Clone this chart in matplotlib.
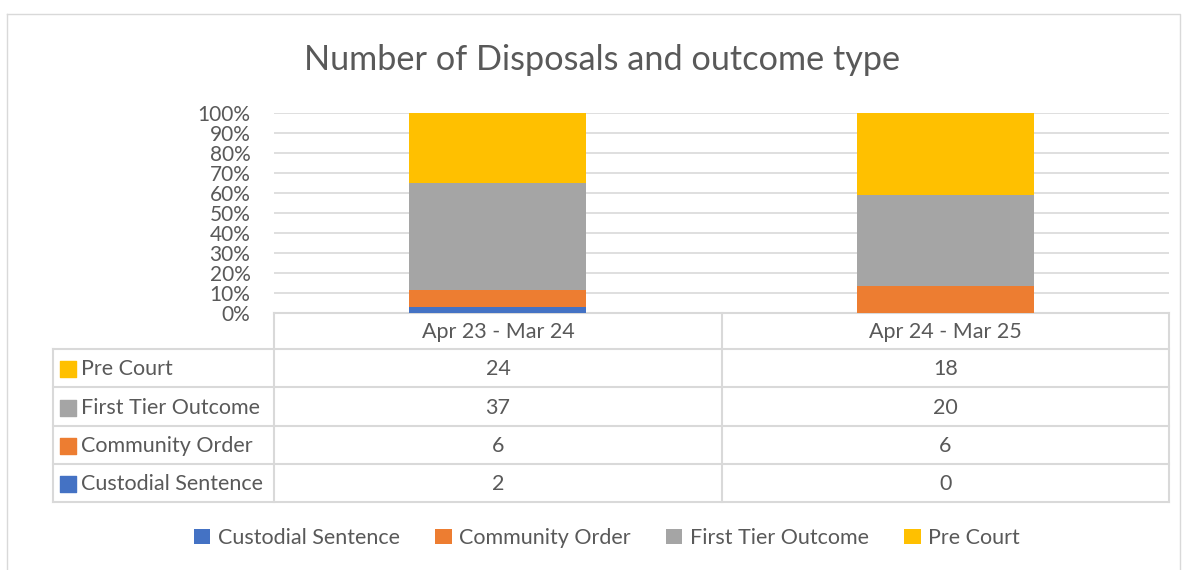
import matplotlib
matplotlib.use("Agg")
import matplotlib.pyplot as plt
import numpy as np
from matplotlib.ticker import PercentFormatter

plt.rcParams["font.family"] = ["Lato", "DejaVu Sans"]

# Daten
periods = ["Apr 23 - Mar 24", "Apr 24 - Mar 25"]
series = ["Custodial Sentence", "Community Order", "First Tier Outcome", "Pre Court"]
custodial = [2, 0]
community = [6, 6]
first_tier = [37, 20]
pre_court = [24, 18]
colors = ["#4472C4", "#ED7D31", "#A5A5A5", "#FFC000"]

text_col = "#595959"
grid_col = "#D9D9D9"
W, H = 1185, 570
fs = 15.5

values = np.array([custodial, community, first_tier, pre_court], dtype=float)
shares = values / values.sum(axis=0)

fig = plt.figure(figsize=(W / 100, H / 100), dpi=100)

# Hintergrund-Achse in Pixelkoordinaten fuer Rahmen, Titel und Tabelle
bg = fig.add_axes([0, 0, 1, 1])
bg.set_xlim(0, W)
bg.set_ylim(H, 0)
bg.axis("off")
bg.plot([7, 1180, 1180, 7, 7], [14, 14, 572, 572, 14], color=grid_col, lw=1)
bg.text(602, 60, "Number of Disposals and outcome type", ha="center", va="center",
        fontsize=24.7, color=text_col)

# Balkenachse
x0, x1, y0, y1 = 274, 1169, 313, 113
ax = fig.add_axes([x0 / W, 1 - y0 / H, (x1 - x0) / W, (y0 - y1) / H])
x = np.arange(len(periods))
bottom = np.zeros(len(periods))
for i, name in enumerate(series):
    ax.bar(x, shares[i], 0.395, bottom=bottom, color=colors[i], label=name, zorder=3)
    bottom += shares[i]
ax.set_xlim(-0.5, len(periods) - 0.5)
ax.set_ylim(0, 1)
ax.set_yticks(np.arange(0, 1.01, 0.1))
ax.yaxis.set_major_formatter(PercentFormatter(1.0, decimals=0))
ax.tick_params(axis="y", length=0, pad=17, labelsize=15, labelcolor=text_col)
ax.set_xticks([])
ax.grid(axis="y", color=grid_col, lw=1.2, zorder=0)
for s in ax.spines.values():
    s.set_visible(False)
ax.patch.set_alpha(0)

# Datentabelle
tl, rows_y = 53, [313, 349, 387, 426, 464, 502]
col_x = [274, 722, 1169]
lw = 1.5
bg.plot([col_x[0], col_x[-1]], [rows_y[0]] * 2, color=grid_col, lw=lw)
for yy in rows_y[1:]:
    bg.plot([tl, col_x[-1]], [yy, yy], color=grid_col, lw=lw)
bg.plot([tl, tl], [rows_y[1], rows_y[-1]], color=grid_col, lw=lw)
for xx in col_x:
    bg.plot([xx, xx], [rows_y[0], rows_y[-1]], color=grid_col, lw=lw)
for j, p in enumerate(periods):
    bg.text((col_x[j] + col_x[j + 1]) / 2, (rows_y[0] + rows_y[1]) / 2 + 1, p,
            ha="center", va="center", fontsize=fs, color=text_col)
order = list(range(len(series)))[::-1]
for r, i in enumerate(order):
    yc = (rows_y[r + 1] + rows_y[r + 2]) / 2 + 1
    bg.scatter([68], [yc], marker="s", s=120, color=colors[i], zorder=4)
    bg.text(81, yc, series[i], ha="left", va="center", fontsize=fs, color=text_col)
    for j in range(len(periods)):
        bg.text((col_x[j] + col_x[j + 1]) / 2, yc, f"{int(values[i, j])}",
                ha="center", va="center", fontsize=fs, color=text_col)

# Legende
handles, labels = ax.get_legend_handles_labels()
fig.legend(handles, labels, loc="center", bbox_to_anchor=(607 / W, 1 - 538 / H),
           ncol=4, frameon=False, fontsize=fs, labelcolor=text_col,
           handlelength=0.75, handleheight=0.75, handletextpad=0.35, columnspacing=1.65)

fig.savefig("out.png", dpi=100, facecolor="white")
